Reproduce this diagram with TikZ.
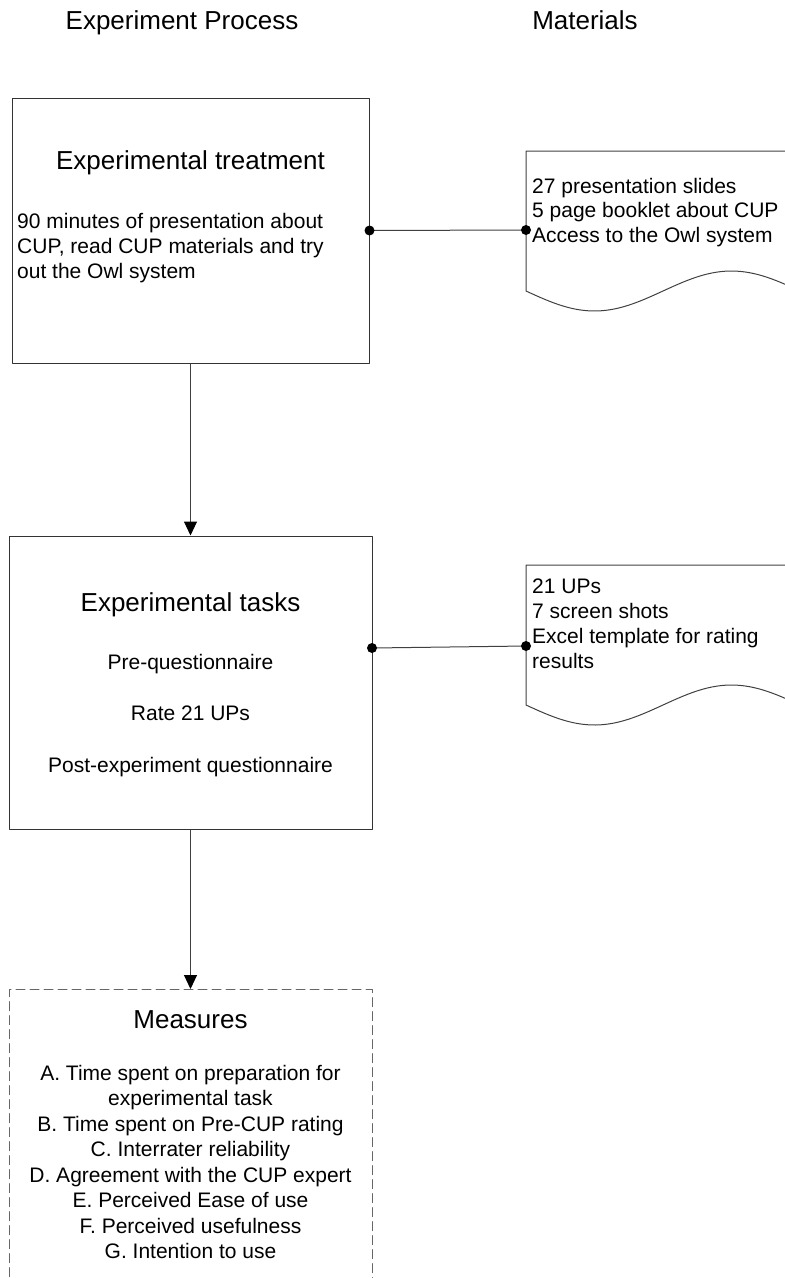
\documentclass[tikz,border=0pt]{standalone}
\usepackage{fontspec}
\setmainfont{Liberation Sans}
\usetikzlibrary{arrows.meta}
\begin{document}
\begin{tikzpicture}[x=1pt,y=-1pt,line cap=round,line join=round,
		>={Triangle[width=13pt,length=14pt,color=black]},
		txt/.style={inner sep=0pt,font=\fontsize{21}{25}\selectfont},
		ttl/.style={inner sep=0pt,font=\fontsize{26}{30}\selectfont},
		box/.style={draw=black!80,line width=1pt,inner sep=0pt},
		wire/.style={draw=black!75,line width=1pt},
		dot/.style={circle,fill=black,inner sep=0pt,minimum size=10pt}]
	\useasboundingbox (0,0) rectangle (785,1278);
	\clip (0,0) rectangle (785,1278);
	% headers
	\node[ttl,anchor=base] (hproc) at (182,29) {Experiment Process};
	\node[ttl,anchor=base] (hmat) at (585,29) {Materials};
	% process boxes
	\node[box,minimum width=357pt,minimum height=265pt] (treat) at (190.5,230.5) {};
	\node[box,minimum width=363pt,minimum height=293pt] (tasks) at (190.5,682.5) {};
	\node[box,draw=black!60,dash pattern=on 9pt off 5pt,minimum width=363pt,minimum height=340pt,anchor=north] (meas) at (190.5,989) {};
	\node[ttl,anchor=base] (ttreat) at (190.5,169) {Experimental treatment};
	\foreach \t [count=\i] in {90 minutes of presentation about,{CUP, read CUP materials and try},out the Owl system}
		\node[txt,anchor=base west] (treat\i) at (17,203+25*\i) {\t};
	\node[ttl,anchor=base] (ttasks) at (190.5,611) {Experimental tasks};
	\foreach \t [count=\i] in {Pre-questionnaire,Rate 21 UPs,Post-experiment questionnaire}
		\node[txt,anchor=base] (tasks\i) at (190.5,617.5+51.5*\i) {\t};
	\node[ttl,anchor=base] (tmeas) at (190.5,1028) {Measures};
	\foreach \t [count=\i] in {A. Time spent on preparation for,experimental task,B. Time spent on Pre-CUP rating,C. Interrater reliability,D. Agreement with the CUP expert,E. Perceived Ease of use,F. Perceived usefulness,G. Intention to use}
		\node[txt,anchor=base] (meas\i) at (190.5,1054.5+25.5*\i) {\t};
	% material documents
	\foreach \y in {151,565}
		\draw[wire] (800,\y+140) -- (800,\y) -- (526,\y) -- (526,\y+140)
			-- plot[domain=0:274,samples=60] ({526+\x},{\y+140+20*sin(\x/274*360)});
	\foreach \t [count=\i] in {27 presentation slides,5 page booklet about CUP,Access to the Owl system}
		\node[txt,anchor=base west] (mat\i) at (532,168.5+24.5*\i) {\t};
	\foreach \t [count=\i] in {21 UPs,7 screen shots,Excel template for rating,results}
		\node[txt,anchor=base west] (res\i) at (532,568+25*\i) {\t};
	% connectors
	\coordinate (docA) at (526,230);
	\coordinate (tasksR) at (372,648);
	\coordinate (docB) at (526,646);
	\draw[wire] (treat.east) -- (docA) (tasksR) -- (docB);
	\node[dot] (dA1) at (treat.east) {};
	\node[dot] (dA2) at (docA) {};
	\node[dot] (dB1) at (tasksR) {};
	\node[dot] (dB2) at (docB) {};
	\draw[wire,->] (treat) -- (tasks);
	\draw[wire,->] (tasks) -- (meas);
\end{tikzpicture}
\end{document}
